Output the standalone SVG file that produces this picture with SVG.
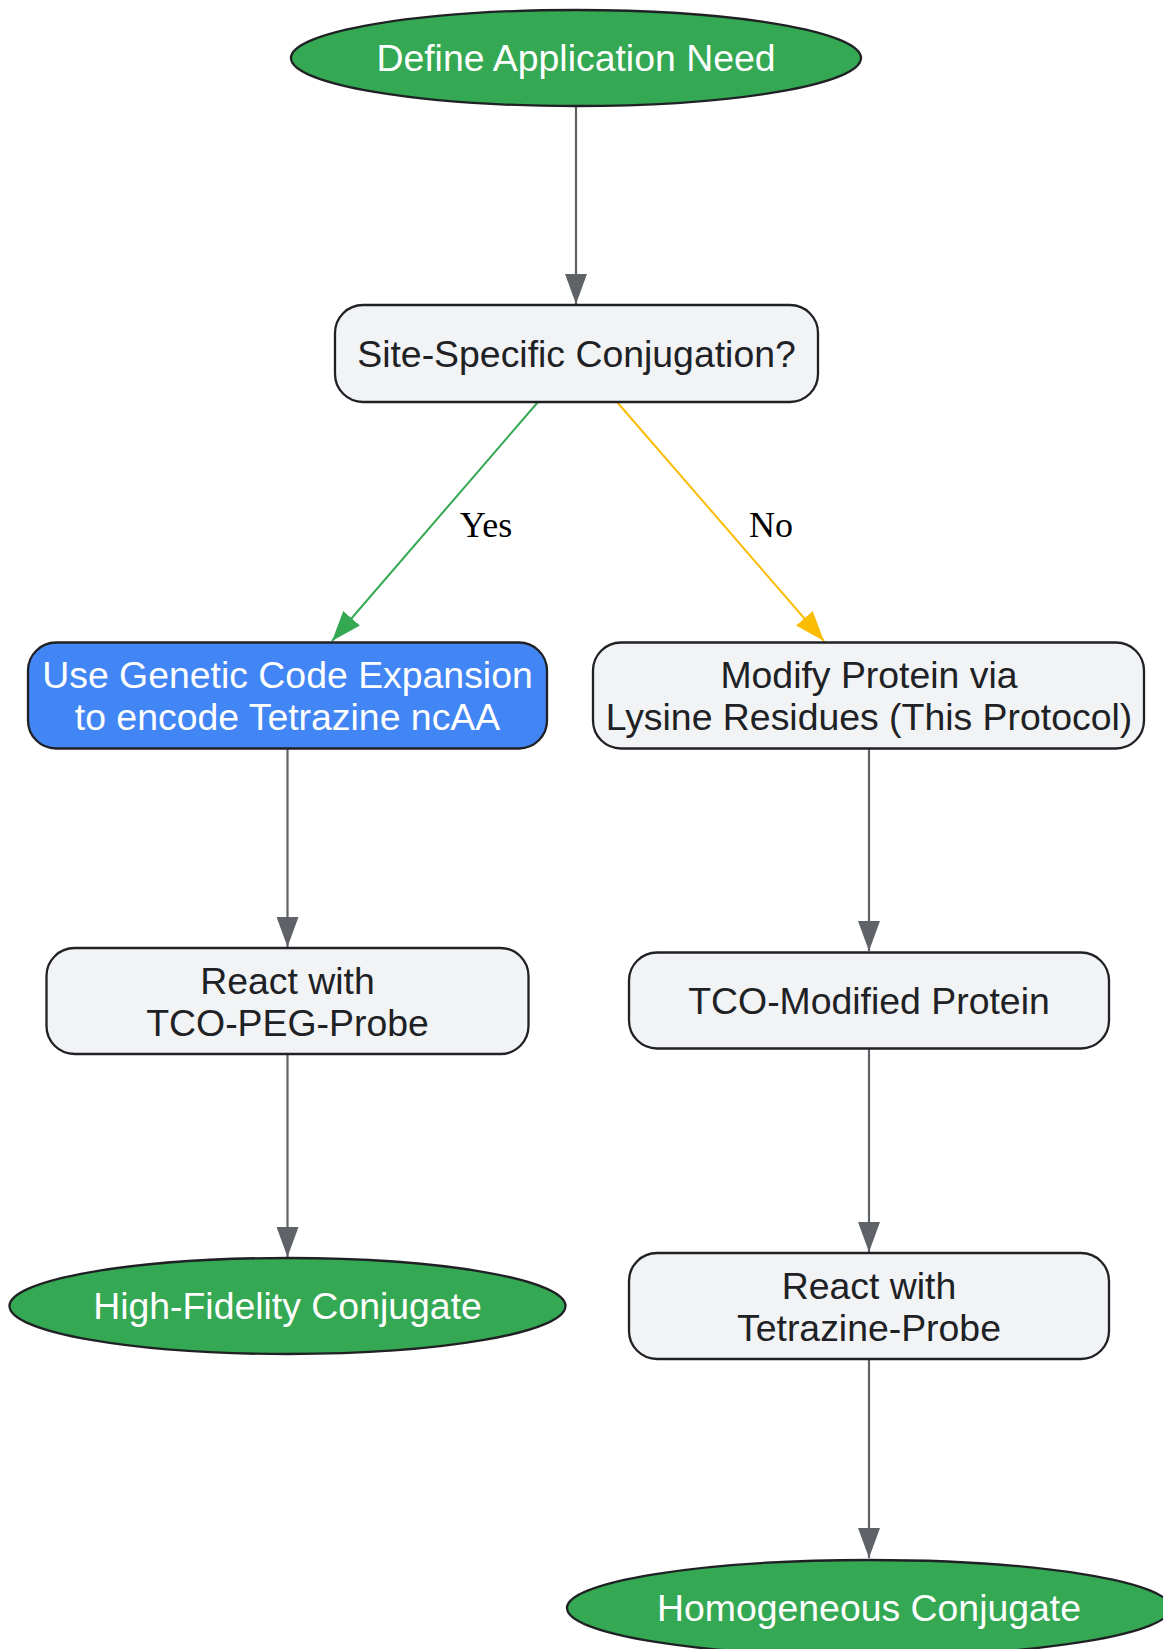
<svg xmlns="http://www.w3.org/2000/svg" width="1163" height="1649" viewBox="0 0 1163 1649">
<style>
.t{font-family:"Liberation Sans",Arial,sans-serif;font-size:37.4px;text-anchor:middle}
.dk{fill:#202124}
.wh{fill:#ffffff}
.lbl{font-family:"Liberation Serif","Times New Roman",serif;font-size:36px;text-anchor:middle;fill:#000}
.term{fill:#34A853;stroke:#202124;stroke-width:2.3}
.box{fill:#F1F3F4;stroke:#202124;stroke-width:2.3}
.blue{fill:#4285F4;stroke:#202124;stroke-width:2.3}
.e{fill:none;stroke:#5F6368;stroke-width:2.2}
</style>
<defs>
<marker id="ag" markerUnits="userSpaceOnUse" markerWidth="30" markerHeight="22" refX="30" refY="11" orient="auto"><path d="M0,0 L30,11 L0,22 z" fill="#5F6368"/></marker>
<marker id="agr" markerUnits="userSpaceOnUse" markerWidth="30" markerHeight="22" refX="30" refY="11" orient="auto"><path d="M0,0 L30,11 L0,22 z" fill="#34A853"/></marker>
<marker id="ay" markerUnits="userSpaceOnUse" markerWidth="30" markerHeight="22" refX="30" refY="11" orient="auto"><path d="M0,0 L30,11 L0,22 z" fill="#FBBC04"/></marker>
</defs>
<rect width="1163" height="1649" fill="#ffffff"/>
<g id="connectors">
<line class="e" x1="576" y1="106" x2="576" y2="304" marker-end="url(#ag)"/>
<line x1="538" y1="402" x2="332" y2="641" stroke="#34A853" stroke-width="2" marker-end="url(#agr)"/>
<line x1="617" y1="402" x2="824" y2="641" stroke="#FBBC04" stroke-width="2" marker-end="url(#ay)"/>
<text class="lbl" x="486" y="537">Yes</text>
<text class="lbl" x="771" y="537">No</text>
<line class="e" x1="287.5" y1="749" x2="287.5" y2="947" marker-end="url(#ag)"/>
<line class="e" x1="287.5" y1="1054" x2="287.5" y2="1257" marker-end="url(#ag)"/>
<line class="e" x1="869" y1="749" x2="869" y2="951" marker-end="url(#ag)"/>
<line class="e" x1="869" y1="1049" x2="869" y2="1252" marker-end="url(#ag)"/>
<line class="e" x1="869" y1="1359" x2="869" y2="1558" marker-end="url(#ag)"/>
</g>
<g id="define">
<ellipse class="term" cx="576" cy="58" rx="285" ry="48"/>
<text class="t wh" x="576" y="71">Define Application Need</text>
</g>
<g id="site">
<rect class="box" x="335" y="305" width="483" height="97" rx="28"/>
<text class="t dk" x="576.5" y="367">Site-Specific Conjugation?</text>
</g>
<g id="gce">
<rect class="blue" x="28" y="642.5" width="519" height="106" rx="28"/>
<text class="t wh" x="287.5" y="688">Use Genetic Code Expansion</text>
<text class="t wh" x="287.5" y="730">to encode Tetrazine ncAA</text>
</g>
<g id="lysine">
<rect class="box" x="593" y="642.5" width="551" height="106" rx="28"/>
<text class="t dk" x="869" y="688">Modify Protein via</text>
<text class="t dk" x="869" y="730">Lysine Residues (This Protocol)</text>
</g>
<g id="reactPeg">
<rect class="box" x="46.5" y="948" width="482" height="106" rx="28"/>
<text class="t dk" x="287.5" y="994">React with</text>
<text class="t dk" x="287.5" y="1036">TCO-PEG-Probe</text>
</g>
<g id="tcoProt">
<rect class="box" x="629" y="952.5" width="480" height="96" rx="28"/>
<text class="t dk" x="869" y="1014">TCO-Modified Protein</text>
</g>
<g id="hfc">
<ellipse class="term" cx="287.5" cy="1306" rx="278" ry="48"/>
<text class="t wh" x="287.5" y="1319">High-Fidelity Conjugate</text>
</g>
<g id="reactTz">
<rect class="box" x="629" y="1253" width="480" height="106" rx="28"/>
<text class="t dk" x="869" y="1299">React with</text>
<text class="t dk" x="869" y="1341">Tetrazine-Probe</text>
</g>
<g id="homog">
<ellipse class="term" cx="869" cy="1608" rx="302" ry="48"/>
<text class="t wh" x="869" y="1621">Homogeneous Conjugate</text>
</g>
</svg>
